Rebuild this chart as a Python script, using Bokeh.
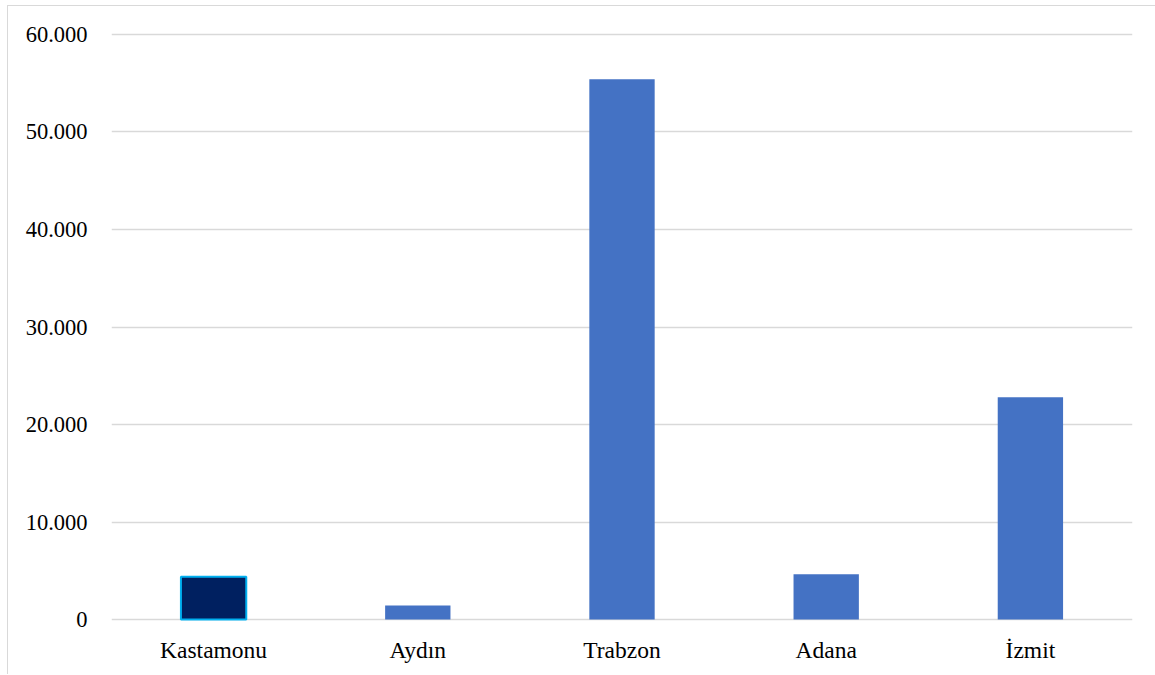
from bokeh.plotting import figure
from bokeh.models import ColumnDataSource, FactorRange, Range1d, CustomJSTickFormatter, FixedTicker
from bokeh.embed import file_html
from bokeh.resources import INLINE

cities = ["Kastamonu", "Aydın", "Trabzon", "Adana", "İzmit"]
values = [4400, 1450, 55400, 4650, 22800]
fills = ["#002060", "#4472C4", "#4472C4", "#4472C4", "#4472C4"]
lines = ["#00B0F0", "#4472C4", "#4472C4", "#4472C4", "#4472C4"]
line_widths = [2, 0, 0, 0, 0]
y_ticks = [0, 10000, 20000, 30000, 40000, 50000, 60000]

src = ColumnDataSource(dict(city=cities, val=values, fill=fills, line=lines, lw=line_widths))

p = figure(x_range=FactorRange(*cities, range_padding=0), y_range=Range1d(-200, 60200),
           width=1148, height=669, output_backend="svg", toolbar_location=None,
           min_border_left=103, min_border_right=24, min_border_top=26, min_border_bottom=54)
p.margin = (5, 0, 0, 7)
p.styles = {"border-top": "1px solid #d9d9d9", "border-left": "1px solid #d9d9d9"}
p.outline_line_color = None

p.vbar(x="city", bottom=0, top="val", width=0.32, source=src, fill_color="fill",
       line_color="line", line_width="lw")

p.xgrid.grid_line_color = None
p.ygrid.grid_line_color = "#d9d9d9"
p.ygrid.grid_line_width = 1.5
p.ygrid.level = "underlay"

p.yaxis.ticker = FixedTicker(ticks=y_ticks)
p.yaxis.formatter = CustomJSTickFormatter(code="""
return tick.toFixed(0).replace(/\\B(?=(\\d{3})+(?!\\d))/g, '.');
""")
for ax in (p.xaxis[0], p.yaxis[0]):
    ax.axis_line_color = None
    ax.major_tick_line_color = None
    ax.minor_tick_line_color = None
    ax.major_label_text_font = "Liberation Serif"
    ax.major_label_text_color = "#000000"
p.yaxis.major_label_text_font_size = "22.5px"
p.xaxis.major_label_text_font_size = "23.5px"
p.yaxis.major_label_standoff = 18
p.xaxis.major_label_standoff = 9

open("out.html", "w").write(file_html(p, INLINE))
